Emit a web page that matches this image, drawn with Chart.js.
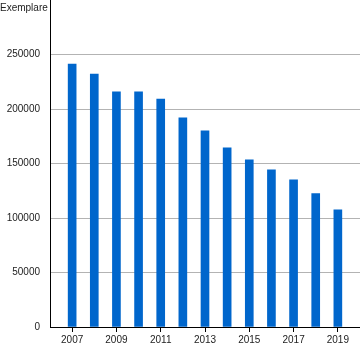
<!DOCTYPE html>
<html>
<head>
<meta charset="utf-8">
<script src="https://cdn.jsdelivr.net/npm/chart.js@4/dist/chart.umd.min.js"></script>
<style>
  html, body { margin: 0; padding: 0; background: #fff; }
  #wrap { width: 360px; height: 346px; position: relative; }
</style>
</head>
<body>
<div id="wrap"><canvas id="chart"></canvas></div>
<script>
// Years 2006 and 2020 are empty slots so the axis runs edge to edge
const years = ["2006", "2007", "2008", "2009", "2010", "2011", "2012", "2013",
  "2014", "2015", "2016", "2017", "2018", "2019", "2020"];
const copies = [null, 241300, 232100, 215700, 215700, 209200, 191800, 179900,
  164400, 153400, 144200, 135100, 122300, 107600, null];
const yTicks = [0, 50000, 100000, 150000, 200000, 250000];
const yTitle = "Exemplare";

const font = "'Liberation Sans', Arial, sans-serif";
const barColor = "#0066cc";

// Draws the axis title in the top-left corner
const cornerTitle = {
  id: "cornerTitle",
  afterDraw(chart) {
    const ctx = chart.ctx;
    ctx.save();
    ctx.font = "10px " + font;
    ctx.fillStyle = "#222";
    ctx.textBaseline = "middle";
    ctx.textAlign = "left";
    ctx.fillText(yTitle, 0, 8);
    ctx.restore();
  }
};

const noPad = (s) => {
  s.paddingTop = 0;
  s.paddingBottom = 0;
  s.paddingLeft = 0;
  s.paddingRight = 0;
};

new Chart(document.getElementById("chart"), {
  type: "bar",
  data: {
    labels: years,
    datasets: [{
      data: copies,
      backgroundColor: barColor,
      barThickness: 8
    }]
  },
  options: {
    responsive: true,
    maintainAspectRatio: false,
    animation: false,
    layout: { padding: 0 },
    plugins: {
      legend: { display: false },
      tooltip: { enabled: false }
    },
    scales: {
      x: {
        offset: false,
        grid: {
          offset: false,
          drawOnChartArea: false,
          drawTicks: true,
          tickLength: 5,
          color: "#000"
        },
        border: { color: "#000", width: 1 },
        ticks: {
          autoSkip: false,
          maxRotation: 0,
          padding: 2,
          color: "#222",
          font: { family: font, size: 10 },
          callback: function (val) {
            const y = parseInt(this.getLabelForValue(val), 10);
            return (y % 2 === 1) ? String(y) : null;
          }
        },
        afterFit: (s) => { s.height = 19; noPad(s); }
      },
      y: {
        min: 0,
        max: 300000,
        afterBuildTicks: (s) => { s.ticks = yTicks.map(v => ({ value: v })); },
        grid: { color: "#b3b3b3", drawTicks: false },
        border: { color: "#000", width: 1 },
        ticks: {
          padding: 10,
          color: "#222",
          font: { family: font, size: 10 },
          callback: (v) => String(v)
        },
        afterFit: (s) => { s.width = 50; noPad(s); }
      }
    }
  },
  plugins: [cornerTitle]
});
</script>
</body>
</html>
